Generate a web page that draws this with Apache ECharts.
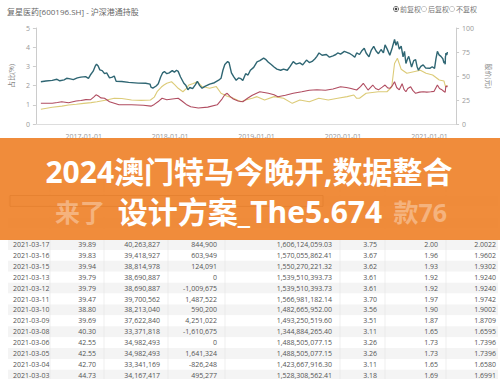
<!DOCTYPE html>
<html><head><meta charset="utf-8">
<script src="https://cdn.jsdelivr.net/npm/echarts/dist/echarts.min.js"></script>
<style>html,body{margin:0;padding:0;background:#fff}#c{width:500px;height:379px}</style>
</head><body><div id="c"></div>
<script>
// ---------- data ----------
const chartTitle = '复星医药[600196.SH] - 沪深港通持股';
const legendItems = ['前复权', '后复权', '不复权'];
const leftAxisName = '占比(%)';
const rightAxisName = '股价(元)';
const seriesNames = ['持股占比', '占流通A股', '股价'];

const holdPct = [['2016-07-04',2.20],['2016-07-25',2.24],['2016-08-21',2.27],['2016-09-10',2.33],['2016-09-22',2.25],['2016-10-10',2.30],['2016-10-21',2.38],['2016-11-05',2.35],['2016-11-18',2.31],['2016-12-05',2.40],['2016-12-20',2.44],['2017-01-09',2.47],['2017-01-21',2.38],['2017-01-29',2.55],['2017-02-10',2.75],['2017-02-18',3.00],['2017-02-24',3.12],['2017-03-03',3.02],['2017-03-10',2.82],['2017-03-20',2.78],['2017-03-30',2.62],['2017-04-08',2.66],['2017-04-20',2.40],['2017-05-02',2.44],['2017-05-10',2.50],['2017-05-18',2.22],['2017-06-11',2.21],['2017-07-10',2.17],['2017-08-19',2.13],['2017-09-20',2.12],['2017-10-08',2.08],['2017-10-12',1.92],['2017-10-20',1.87],['2017-11-03',1.98],['2017-11-12',2.10],['2017-11-22',2.45],['2017-11-30',2.66],['2017-12-08',2.73],['2017-12-18',2.62],['2017-12-28',2.66],['2018-01-10',2.78],['2018-01-19',2.70],['2018-01-28',2.80],['2018-02-04',2.74],['2018-02-14',2.45],['2018-02-28',2.12],['2018-03-09',2.00],['2018-03-17',1.78],['2018-03-25',1.90],['2018-04-06',1.84],['2018-04-18',2.05],['2018-04-26',2.22],['2018-05-06',2.00],['2018-05-16',1.86],['2018-05-28',1.96],['2018-06-17',2.08],['2018-07-07',2.15],['2018-07-25',2.28],['2018-08-04',2.38],['2018-08-12',2.80],['2018-08-20',3.10],['2018-09-01',3.25],['2018-09-07',3.20],['2018-09-17',2.66],['2018-09-27',2.45],['2018-10-07',2.28],['2018-10-17',2.40],['2018-10-27',2.36],['2018-11-04',2.26],['2018-11-16',2.62],['2018-11-26',2.55],['2018-12-06',2.80],['2018-12-20',2.95],['2019-01-03',3.24],['2019-01-15',3.30],['2019-01-31',3.43],['2019-02-10',3.35],['2019-02-20',3.22],['2019-03-04',3.10],['2019-03-16',2.97],['2019-03-28',2.86],['2019-04-13',2.80],['2019-04-25',2.86],['2019-05-11',2.80],['2019-05-23',3.00],['2019-06-05',3.25],['2019-06-17',3.12],['2019-07-03',3.18],['2019-07-15',3.08],['2019-07-31',3.33],['2019-08-12',3.20],['2019-08-24',3.26],['2019-09-05',3.40],['2019-09-13',3.52],['2019-09-22',3.70],['2019-10-05',3.58],['2019-10-23',3.62],['2019-11-05',3.48],['2019-11-20',3.55],['2019-12-02',3.62],['2019-12-10',3.70],['2019-12-22',3.64],['2020-01-07',3.78],['2020-01-20',3.72],['2020-01-31',3.66],['2020-02-10',3.58],['2020-02-20',3.48],['2020-02-28',3.70],['2020-03-11',3.62],['2020-03-20',3.80],['2020-03-31',3.95],['2020-04-08',3.70],['2020-04-20',3.50],['2020-04-30',3.85],['2020-05-10',4.04],['2020-05-20',3.80],['2020-05-30',3.66],['2020-06-10',3.88],['2020-06-20',3.70],['2020-06-27',4.12],['2020-07-06',3.90],['2020-07-17',3.58],['2020-07-27',3.96],['2020-08-06',4.40],['2020-08-12',4.10],['2020-08-18',4.30],['2020-08-26',3.90],['2020-09-03',4.05],['2020-09-11',3.50],['2020-09-17',3.78],['2020-09-23',3.15],['2020-09-30',3.40],['2020-10-05',3.52],['2020-10-12',3.20],['2020-10-17',2.97],['2020-10-26',3.30],['2020-11-03',3.35],['2020-11-09',3.00],['2020-11-15',2.80],['2020-11-25',3.00],['2020-12-05',3.08],['2020-12-15',2.92],['2021-01-02',2.90],['2021-01-12',2.98],['2021-01-22',2.90],['2021-01-28',3.40],['2021-02-03',3.78],['2021-02-10',3.60],['2021-02-18',3.52],['2021-02-26',3.40],['2021-03-03',3.18],['2021-03-05',3.26],['2021-03-08',3.11],['2021-03-09',3.51],['2021-03-10',3.56],['2021-03-11',3.70],['2021-03-12',3.61],['2021-03-15',3.62],['2021-03-16',3.67],['2021-03-17',3.75]];

const floatPct = [['2016-07-04',1.08],['2016-08-21',1.08],['2016-09-12',1.12],['2016-09-30',1.16],['2016-10-29',1.11],['2016-11-30',1.20],['2016-12-20',1.22],['2017-01-10',1.27],['2017-01-29',1.26],['2017-02-12',1.40],['2017-02-22',1.52],['2017-03-04',1.46],['2017-03-14',1.36],['2017-03-30',1.34],['2017-04-20',1.16],['2017-05-10',1.08],['2017-05-30',1.00],['2017-07-22',1.00],['2017-09-10',0.98],['2017-10-12',0.93],['2017-10-26',1.02],['2017-11-15',1.20],['2017-11-28',1.34],['2017-12-18',1.26],['2018-01-10',1.30],['2018-02-04',1.34],['2018-02-20',1.20],['2018-03-10',1.02],['2018-03-29',0.90],['2018-04-30',0.83],['2018-06-09',0.88],['2018-07-19',1.00],['2018-08-08',1.30],['2018-08-20',1.52],['2018-08-30',1.60],['2018-09-10',1.45],['2018-09-25',1.30],['2018-10-15',1.20],['2018-11-04',1.16],['2018-11-24',1.34],['2018-12-14',1.50],['2019-01-15',1.68],['2019-02-20',1.60],['2019-03-16',1.52],['2019-04-01',1.42],['2019-05-03',1.50],['2019-06-05',1.60],['2019-07-11',1.68],['2019-08-12',1.76],['2019-09-13',1.78],['2019-10-19',1.76],['2019-11-20',1.82],['2019-12-22',1.94],['2020-01-15',1.90],['2020-01-31',1.86],['2020-02-28',1.77],['2020-03-15',1.95],['2020-03-27',2.12],['2020-04-16',1.77],['2020-05-06',2.03],['2020-05-18',1.85],['2020-05-30',1.78],['2020-06-15',1.92],['2020-06-27',2.03],['2020-07-08',1.88],['2020-07-17',1.86],['2020-07-28',2.00],['2020-08-06',2.20],['2020-08-15',1.90],['2020-08-26',1.78],['2020-09-07',2.10],['2020-09-15',1.80],['2020-09-23',1.68],['2020-10-01',1.85],['2020-10-13',1.94],['2020-10-22',1.75],['2020-11-03',1.60],['2020-11-20',1.66],['2020-12-05',1.68],['2020-12-20',1.66],['2021-01-06',1.68],['2021-01-20',1.70],['2021-02-03',2.03],['2021-02-12',1.85],['2021-02-20',1.80],['2021-03-03',1.69],['2021-03-08',1.65],['2021-03-10',1.90],['2021-03-11',1.97],['2021-03-15',1.93],['2021-03-17',2.00]];

const price = [['2016-07-04',15.3],['2016-08-21',17.4],['2016-10-01',18.6],['2016-10-29',19.8],['2016-12-01',20.5],['2017-01-01',21.5],['2017-02-01',22.3],['2017-02-26',23.2],['2017-04-08',25.0],['2017-05-10',26.8],['2017-06-11',26.5],['2017-07-22',25.0],['2017-09-01',24.6],['2017-10-10',25.0],['2017-10-26',28.0],['2017-11-07',33.6],['2017-11-25',38.5],['2017-12-06',40.6],['2017-12-18',42.4],['2018-01-07',44.0],['2018-01-20',41.0],['2018-02-04',37.2],['2018-02-24',33.6],['2018-03-09',36.5],['2018-03-21',40.6],['2018-04-06',42.0],['2018-04-26',44.0],['2018-05-16',39.0],['2018-06-17',37.2],['2018-07-15',39.0],['2018-08-04',32.0],['2018-08-28',29.2],['2018-09-25',26.8],['2018-10-27',23.2],['2018-11-16',25.0],['2018-12-14',26.8],['2019-01-03',28.5],['2019-02-04',25.0],['2019-03-16',28.5],['2019-04-25',26.8],['2019-06-01',21.5],['2019-07-03',25.0],['2019-08-12',23.2],['2019-09-21',26.8],['2019-10-31',25.0],['2019-12-10',26.8],['2020-01-19',28.5],['2020-02-16',30.2],['2020-02-28',26.8],['2020-03-11',26.8],['2020-04-08',32.0],['2020-05-30',33.6],['2020-07-05',33.6],['2020-07-25',38.5],['2020-08-06',63.0],['2020-08-18',68.5],['2020-09-03',57.0],['2020-09-27',52.8],['2020-10-26',54.5],['2020-11-23',56.0],['2020-12-17',52.8],['2021-01-14',51.0],['2021-02-11',45.8],['2021-03-03',44.73],['2021-03-05',42.55],['2021-03-08',40.30],['2021-03-10',38.80],['2021-03-12',39.79],['2021-03-17',39.89]];

const bannerLine1 = '2024澳门特马今晚开,数据整合';
const bannerLine2 = '设计方案_The5.674';
const bannerGhostLeft = '来了';
const bannerGhostRight = '款76';

const tDates  = ['2021-03-23','2021-03-22','2021-03-19','2021-03-18','2021-03-17','2021-03-16','2021-03-15','2021-03-13','2021-03-12','2021-03-11','2021-03-10','2021-03-09','2021-03-08','2021-03-06','2021-03-05','2021-03-04','2021-03-03'];
const tPrice  = ['39.97','40.06','39.42','40.18','39.89','39.83','39.94','39.79','39.79','39.47','38.80','39.69','40.30','42.55','42.55','42.70','44.73'];
const tShares = ['38,535,412','40,467,310','39,501,873','38,624,441','40,263,827','39,418,927','38,814,978','38,690,887','38,690,887','39,700,562','38,213,040','37,622,840','33,371,818','34,982,493','34,982,493','33,341,169','34,167,417'];
const tChange = ['-1,931,898','965,437','877,432','-1,639,386','844,900','603,949','124,091','0','-1,009,675','1,487,522','590,200','4,251,022','-1,610,675','0','1,641,324','-826,248','495,277'];
const tValue  = ['1,540,260,417.64','1,621,120,438.60','1,557,163,833.66','1,551,930,039.38','1,606,124,059.03','1,570,055,862.41','1,550,270,221.32','1,539,510,393.73','1,539,510,393.73','1,566,981,182.14','1,482,665,952.00','1,493,250,519.60','1,344,884,265.40','1,488,505,077.15','1,488,505,077.15','1,423,667,916.30','1,528,308,562.41'];
const tPctA   = ['3.59','3.77','3.68','3.60','3.75','3.67','3.62','3.61','3.61','3.70','3.56','3.51','3.11','3.26','3.26','3.11','3.18'];
const tPctF1  = ['1.91','2.01','1.96','1.92','2.00','1.96','1.93','1.92','1.92','1.97','1.90','1.87','1.65','1.73','1.73','1.65','1.69'];
const tPctF2  = ['1.9162','2.0123','1.9643','1.9207','2.0022','1.9602','1.9302','1.9240','1.9240','1.9742','1.9002','1.8709','1.6595','1.7396','1.7396','1.6580','1.6991'];

// ---------- layout helpers ----------
const FONT = '"Open Sans","Noto Sans CJK SC",sans-serif';
function T(text, x, y, size, fill, align, z, weight) {
  return {type:'text', x:x, y:y, z:z||5, silent:true,
    style:{text:text, fill:fill, font:(weight||'normal')+' '+size+'px '+FONT,
      textAlign:align||'left', align:align||'left', textVerticalAlign:'middle', verticalAlign:'middle'}};
}
const g = [];
g.push(T(chartTitle, 7, 11, 8, '#666', 'left'));
const legX = [396, 424, 452];
legendItems.forEach(function(s,i){
  g.push({type:'circle', shape:{cx:legX[i], cy:9, r:2.6}, style:{fill:'#fff', stroke: i===0?'#555':'#bbb', lineWidth:0.8}, z:5, silent:true});
  if(i===0) g.push({type:'circle', shape:{cx:legX[i], cy:9, r:1.3}, style:{fill:'#444'}, z:6, silent:true});
  g.push(T(s, legX[i]+4, 9.5, 7, '#777', 'left'));
});

// table (rows above 2021-03-17 sit under the banner; only their stripes show through)
const colRight = [null, 96, 160, 217, 332, 377, 438, 496];
const cols = [tDates, tPrice, tShares, tChange, tValue, tPctA, tPctF1, tPctF2];
const rowH = 10.9, firstY = 244.5 - 4*rowH, firstTextRow = 4;
g.push({type:'rect', shape:{x:8,y:168,width:490,height:24}, style:{fill:'#fafafa'}, z:1, silent:true});
for (let r=0;r<tDates.length;r++){
  const y = firstY + r*rowH;
  g.push({type:'rect', shape:{x:8,y:y-rowH/2,width:490,height:rowH}, style:{fill: r%2===0 ? '#f4f4f4' : '#ffffff'}, z:1, silent:true});
  if (r < firstTextRow) continue;
  g.push(T(cols[0][r], 13, y, 7, '#555', 'left', 2));
  for (let c=1;c<cols.length;c++) g.push(T(cols[c][r], colRight[c], y, 7, '#555', 'right', 2));
}
[50, 104, 168, 225, 340, 385, 446].forEach(function(x){
  g.push({type:'line', shape:{x1:x,y1:168,x2:x,y2:379}, style:{stroke:'#e4e4e4', lineWidth:0.6}, z:2, silent:true});
});
g.push({type:'rect', shape:{x:10,y:firstY-rowH/2,width:313,height:rowH}, style:{fill:'none', stroke:'#777', lineWidth:0.8}, z:3, silent:true});

// banner
g.push({type:'rect', shape:{x:0,y:138,width:500,height:102}, style:{fill:'rgba(238,127,38,0.9)'}, z:10, silent:true});
g.push(T(bannerGhostLeft, 55, 212, 25, 'rgba(255,255,255,0.35)', 'left', 11, 'bold'));
g.push(T(bannerGhostRight, 447, 212, 25, 'rgba(255,255,255,0.35)', 'right', 11, 'bold'));
g.push(T(bannerLine1, 249, 171, 30, '#ffffff', 'center', 12, 'bold'));
g.push(T(bannerLine2, 250, 211, 30, '#ffffff', 'center', 12, 'bold'));

const axisLbl = {fontSize:7, color:'#999', fontFamily:FONT};
const chart = echarts.init(document.getElementById('c'), null, {renderer:'svg'});
chart.setOption({
  animation:false,
  backgroundColor:'#fff',
  grid:{left:33, right:27, top:28, bottom:255},
  xAxis:{type:'time', min:'2016-06-13', max:'2021-04-23',
    minInterval:365*24*3600*1000, maxInterval:366*24*3600*1000,
    axisLine:{lineStyle:{color:'#ddd'}}, axisTick:{show:false}, splitLine:{show:false},
    axisLabel:Object.assign({margin:9, showMinLabel:false, showMaxLabel:false,
      formatter:function(v){return echarts.time.format(v,'{yyyy}-{MM}-{dd}',false);}}, axisLbl)},
  yAxis:[
    {type:'value', min:0, max:5, interval:1, name:leftAxisName, nameLocation:'middle', nameGap:13, nameRotate:90,
     nameTextStyle:{fontSize:7, color:'#888', fontFamily:FONT},
     axisLine:{show:true, lineStyle:{color:'#ccc'}}, axisTick:{show:true, length:3, lineStyle:{color:'#ccc'}},
     splitLine:{show:false}, axisLabel:Object.assign({margin:6}, axisLbl)},
    {type:'value', min:0, max:100, interval:25, name:rightAxisName, nameLocation:'middle', nameGap:19, nameRotate:-90,
     nameTextStyle:{fontSize:7, color:'#888', fontFamily:FONT},
     axisLine:{show:true, lineStyle:{color:'#ccc'}}, axisTick:{show:true, length:3, lineStyle:{color:'#ccc'}},
     splitLine:{show:false}, axisLabel:Object.assign({margin:6}, axisLbl)}
  ],
  series:[
    {name:seriesNames[0], type:'line', yAxisIndex:0, data:holdPct, showSymbol:false, lineStyle:{width:1.4, color:'#2f6673'}, itemStyle:{color:'#2f6673'}, z:4},
    {name:seriesNames[1], type:'line', yAxisIndex:0, data:floatPct, showSymbol:false, lineStyle:{width:1.1, color:'#b04c60'}, itemStyle:{color:'#b04c60'}, z:3},
    {name:seriesNames[2], type:'line', yAxisIndex:1, data:price, showSymbol:false, lineStyle:{width:1.1, color:'#dccb78'}, itemStyle:{color:'#dccb78'}, z:2}
  ],
  graphic:{elements:g}
});
</script></body></html>
